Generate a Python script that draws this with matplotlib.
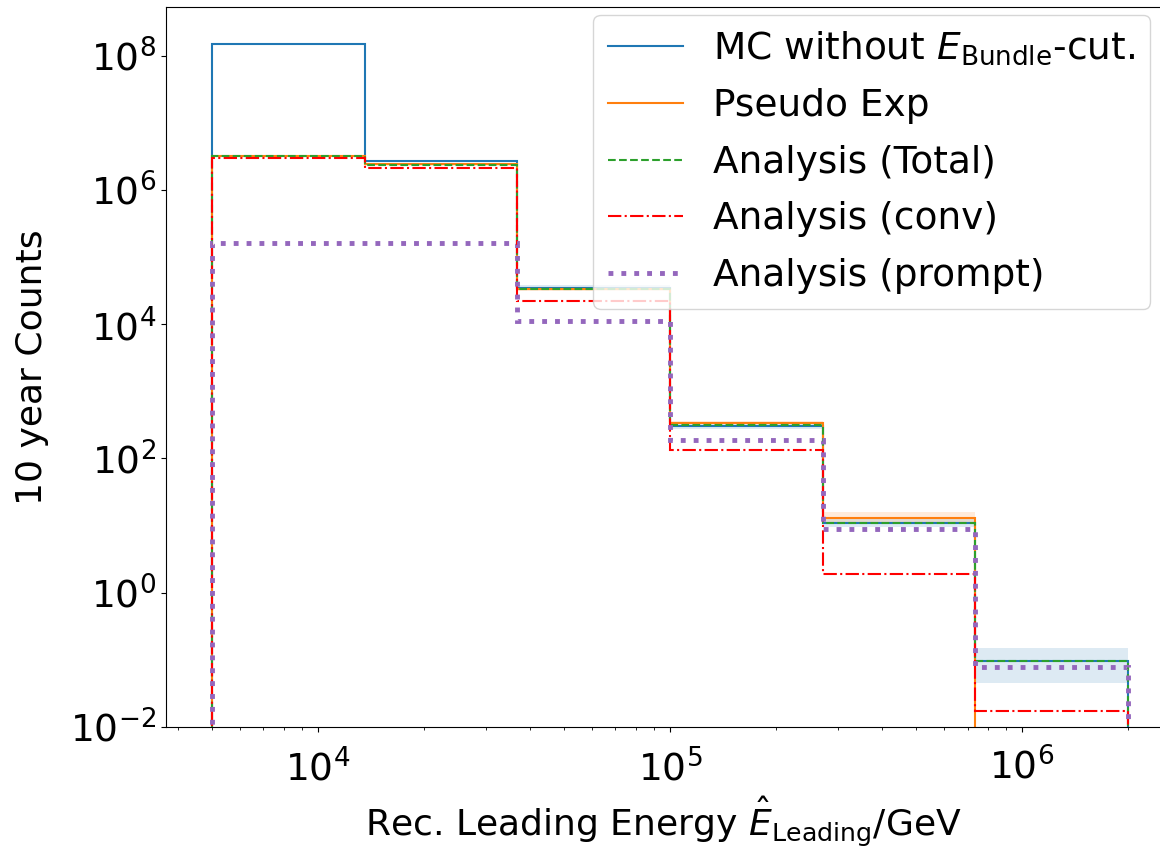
import numpy as np
import matplotlib.pyplot as plt

# bin edges (GeV), log spaced from 5 TeV to 2 PeV
edges = np.logspace(np.log10(5e3), np.log10(2e6), 7)

mc = [1.5e8, 2.7e6, 3.5e4, 300, 11, 0.095]
mc_lo = [1.45e8, 2.6e6, 3.2e4, 270, 9.5, 0.045]
mc_hi = [1.55e8, 2.8e6, 3.8e4, 330, 12.5, 0.15]
pseudo = [3.2e6, 2.4e6, 3.3e4, 340, 13, 0]
pseudo_lo = [3.1e6, 2.3e6, 3.1e4, 320, 11, 0]
pseudo_hi = [3.3e6, 2.5e6, 3.5e4, 360, 16, 0]
total = [3.2e6, 2.35e6, 3.3e4, 310, 11, 0.095]
conv = [3.0e6, 2.1e6, 2.2e4, 135, 1.9, 0.017]
prompt = [1.6e5, 1.6e5, 1.1e4, 190, 9, 0.078]


def main():
    plt.rcParams['font.size'] = 26
    plt.rcParams['xtick.labelsize'] = 27
    plt.rcParams['ytick.labelsize'] = 27
    fig, ax = plt.subplots(figsize=(11.6, 8.52), dpi=100)

    ax.stairs(mc_hi, edges, baseline=mc_lo, fill=True, color='tab:blue', alpha=0.15, lw=0)
    ax.stairs(pseudo_hi, edges, baseline=pseudo_lo, fill=True, color='tab:orange', alpha=0.15, lw=0)

    base = 1e-6
    ax.stairs(mc, edges, baseline=base, color='tab:blue', lw=1.5,
              label=r'MC without $E_{\mathrm{Bundle}}$-cut.')
    ax.stairs(pseudo, edges, baseline=base, color='tab:orange', lw=1.5, label='Pseudo Exp')
    ax.stairs(total, edges, baseline=base, color='tab:green', lw=1.5, ls='--', label='Analysis (Total)')
    ax.stairs(conv, edges, baseline=base, color='red', lw=1.5, ls='-.', label='Analysis (conv)')
    ax.stairs(prompt, edges, baseline=base, color='tab:purple', lw=3.5, ls=':', label='Analysis (prompt)')

    ax.set_xscale('log')
    ax.set_yscale('log')
    ax.set_xlim(10**3.568, 10**6.395)
    ax.set_ylim(1e-2, 10**8.73)
    ax.tick_params(axis='x', which='major', pad=12)
    ax.set_xlabel(r'Rec. Leading Energy $\hat{E}_{\mathrm{Leading}}$/GeV', labelpad=5)
    ax.set_ylabel('10 year Counts', labelpad=15)
    ax.legend(loc='upper right', fontsize=27, borderaxespad=0, labelspacing=0.55,
              bbox_to_anchor=(1 - 11 / 995, 1 - 8 / 720))

    fig.subplots_adjust(left=0.143, right=1.001, bottom=0.147, top=0.992)
    fig.savefig('out.png')


if __name__ == "__main__":
    main()
